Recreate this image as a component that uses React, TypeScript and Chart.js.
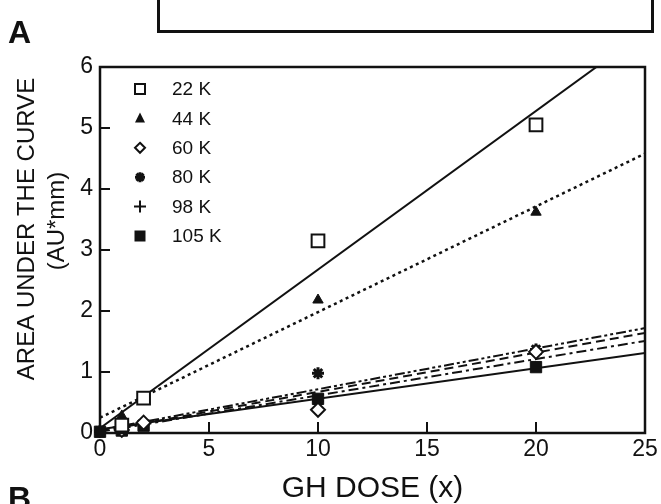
import React, { useEffect, useRef } from "react";
import { Chart, registerables } from "chart.js";

Chart.register(...registerables);

// ---------- data ----------
const SERIES_NAMES = ["22 K", "44 K", "60 K", "80 K", "98 K", "105 K"];

const DOSE_22K = [1, 2, 10, 20];
const AUC_22K = [0.13, 0.57, 3.15, 5.05];
const DOSE_44K = [0, 1, 10, 20];
const AUC_44K = [0.03, 0.28, 2.18, 3.62];
const DOSE_60K = [1, 2, 10, 20];
const AUC_60K = [0.05, 0.17, 0.38, 1.33];
const DOSE_80K = [0, 1, 2, 10, 20];
const AUC_80K = [0.03, 0.08, 0.15, 0.98, 1.37];
const DOSE_98K = [0, 1, 2, 10, 20];
const AUC_98K = [0.02, 0.06, 0.14, 0.52, 1.3];
const DOSE_105K = [0, 1, 2, 10, 20];
const AUC_105K = [0.02, 0.04, 0.12, 0.56, 1.08];

// fitted regression lines (value at dose 0 and dose 25)
const FIT_DOSE = [0, 25];
const FIT_22K = [0.08, 6.58];
const FIT_44K = [0.25, 4.58];
const FIT_60K = [0.02, 1.51];
const FIT_80K = [0.05, 1.72];
const FIT_98K = [0.03, 1.64];
const FIT_105K = [0.06, 1.31];

const X_TICKS = [0, 5, 10, 15, 20, 25];
const Y_TICKS = [0, 1, 2, 3, 4, 5, 6];
const X_TITLE = "GH DOSE (x)";
const Y_TITLE = ["AREA UNDER THE CURVE", "(AU*mm)"];

const FONT = "'Liberation Sans', Arial, Helvetica, sans-serif";
const INK = "#111";

type Marker = "openSquare" | "triangle" | "openDiamond" | "star" | "plus" | "filledSquare";
const LEGEND_MARKERS: Marker[] = ["openSquare", "triangle", "openDiamond", "star", "plus", "filledSquare"];

function drawMarker(ctx: CanvasRenderingContext2D, m: Marker, x: number, y: number) {
  ctx.save();
  ctx.strokeStyle = INK;
  ctx.fillStyle = INK;
  ctx.setLineDash([]);
  ctx.lineWidth = 2;
  ctx.beginPath();
  if (m === "openSquare") {
    ctx.fillStyle = "#fff";
    ctx.rect(x - 5, y - 5, 10, 10);
    ctx.fill();
    ctx.stroke();
  } else if (m === "filledSquare") {
    ctx.fillRect(x - 5.5, y - 5.5, 11, 11);
  } else if (m === "triangle") {
    ctx.moveTo(x, y - 6);
    ctx.lineTo(x + 5, y + 4);
    ctx.lineTo(x - 5, y + 4);
    ctx.closePath();
    ctx.fill();
  } else if (m === "openDiamond") {
    ctx.moveTo(x, y - 5);
    ctx.lineTo(x + 5, y);
    ctx.lineTo(x, y + 5);
    ctx.lineTo(x - 5, y);
    ctx.closePath();
    ctx.fillStyle = "#fff";
    ctx.fill();
    ctx.stroke();
  } else if (m === "star") {
    ctx.lineWidth = 3;
    for (let i = 0; i < 4; i++) {
      const a = (i * Math.PI) / 4;
      ctx.moveTo(x - 5 * Math.cos(a), y - 5 * Math.sin(a));
      ctx.lineTo(x + 5 * Math.cos(a), y + 5 * Math.sin(a));
    }
    ctx.stroke();
  } else if (m === "plus") {
    ctx.moveTo(x - 6, y);
    ctx.lineTo(x + 6, y);
    ctx.moveTo(x, y - 6);
    ctx.lineTo(x, y + 6);
    ctx.stroke();
  }
  ctx.restore();
}

const framePlugin = {
  id: "frameAndTicks",
  afterDatasetsDraw(chart: any) {
    const { ctx, chartArea } = chart;
    const { left, right, top, bottom } = chartArea;
    ctx.save();
    ctx.strokeStyle = INK;
    ctx.lineWidth = 2.5;
    ctx.setLineDash([]);
    ctx.strokeRect(left, top, right - left, bottom - top);
    ctx.lineWidth = 2;
    const xs = chart.scales.x;
    const ys = chart.scales.y;
    ctx.beginPath();
    X_TICKS.slice(1, -1).forEach((v) => {
      const px = Math.round(xs.getPixelForValue(v));
      ctx.moveTo(px, bottom);
      ctx.lineTo(px, bottom - 11);
    });
    Y_TICKS.slice(1, -1).forEach((v) => {
      const py = Math.round(ys.getPixelForValue(v));
      ctx.moveTo(left, py);
      ctx.lineTo(left + 10, py);
    });
    ctx.stroke();
    ctx.restore();
  },
};

const legendPlugin = {
  id: "insideLegend",
  afterDraw(chart: any) {
    const { ctx } = chart;
    ctx.save();
    ctx.font = `19px ${FONT}`;
    ctx.fillStyle = INK;
    ctx.textBaseline = "middle";
    ctx.textAlign = "left";
    SERIES_NAMES.forEach((name, i) => {
      const y = 89 + i * 29.4;
      drawMarker(ctx, LEGEND_MARKERS[i], 140, y);
      ctx.fillStyle = INK;
      ctx.fillText(name, 172, y + 1);
    });
    ctx.restore();
  },
};

const yTitlePlugin = {
  id: "yTitle",
  afterDraw(chart: any) {
    const { ctx } = chart;
    ctx.save();
    ctx.font = `24px ${FONT}`;
    ctx.fillStyle = INK;
    ctx.textAlign = "center";
    ctx.textBaseline = "middle";
    ctx.translate(27, 229);
    ctx.rotate(-Math.PI / 2);
    ctx.fillText(Y_TITLE[0], 0, 0);
    ctx.fillText(Y_TITLE[1], 8, 30);
    ctx.restore();
  },
};

export default function App() {
  const ref = useRef<HTMLCanvasElement>(null);

  useEffect(() => {
    if (!ref.current) return;
    const toXY = (xs: number[], ys: number[]) => xs.map((x, i) => ({ x, y: ys[i] }));
    const pts = (label: string, xs: number[], ys: number[], style: any, radius: number, filled: boolean, bw: number) => ({
      label,
      data: toXY(xs, ys),
      showLine: false,
      pointStyle: style,
      pointRadius: radius,
      pointHoverRadius: radius,
      pointBackgroundColor: filled ? INK : "#fff",
      pointBorderColor: INK,
      pointBorderWidth: bw,
      backgroundColor: filled ? INK : "#fff",
      borderColor: INK,
      clip: 14,
      order: 0,
    });
    const fit = (label: string, ys: number[], dash: number[], width: number) => ({
      label,
      data: toXY(FIT_DOSE, ys),
      showLine: true,
      pointRadius: 0,
      pointHoverRadius: 0,
      borderColor: INK,
      backgroundColor: INK,
      borderWidth: width,
      borderDash: dash,
      fill: false,
      order: 1,
    });

    const chart = new Chart(ref.current, {
      type: "scatter",
      data: {
        datasets: [
          fit("fit 22 K", FIT_22K, [], 2),
          fit("fit 44 K", FIT_44K, [3, 3.5], 2.5),
          fit("fit 60 K", FIT_60K, [10, 4, 3, 4], 2),
          fit("fit 80 K", FIT_80K, [10, 3, 3, 3, 3, 3], 2),
          fit("fit 98 K", FIT_98K, [9, 5], 2),
          fit("fit 105 K", FIT_105K, [], 2),
          pts(SERIES_NAMES[0], DOSE_22K, AUC_22K, "rect", 9, false, 2),
          pts(SERIES_NAMES[1], DOSE_44K, AUC_44K, "triangle", 6, true, 1),
          pts(SERIES_NAMES[2], DOSE_60K, AUC_60K, "rectRot", 7, false, 2),
          pts(SERIES_NAMES[3], DOSE_80K, AUC_80K, "star", 6, true, 3),
          pts(SERIES_NAMES[4], DOSE_98K, AUC_98K, "cross", 6, true, 2),
          pts(SERIES_NAMES[5], DOSE_105K, AUC_105K, "rect", 8, true, 1),
        ] as any,
      },
      options: {
        animation: false,
        responsive: false,
        devicePixelRatio: 1,
        events: [],
        layout: { padding: { top: 67, right: 16, left: 0, bottom: 0 } },
        plugins: {
          legend: { display: false },
          tooltip: { enabled: false },
        },
        scales: {
          x: {
            type: "linear",
            min: 0,
            max: 25,
            afterBuildTicks: (s: any) => {
              s.ticks = X_TICKS.map((v) => ({ value: v }));
            },
            afterFit: (s: any) => {
              s.height = 71;
            },
            ticks: {
              color: INK,
              font: { family: FONT, size: 23 },
              padding: 3,
              maxRotation: 0,
              autoSkip: false,
            },
            grid: { display: false, drawTicks: false },
            border: { display: false },
            title: {
              display: true,
              text: X_TITLE,
              color: INK,
              font: { family: FONT, size: 30, lineHeight: 1 },
              padding: { top: 0, bottom: 0 },
            },
          },
          y: {
            type: "linear",
            min: 0,
            max: 6,
            afterBuildTicks: (s: any) => {
              s.ticks = Y_TICKS.map((v) => ({ value: v }));
            },
            afterFit: (s: any) => {
              s.width = 100;
            },
            ticks: {
              color: INK,
              font: { family: FONT, size: 23 },
              padding: 7,
              autoSkip: false,
            },
            grid: { display: false, drawTicks: false },
            border: { display: false },
          },
        },
      } as any,
      plugins: [framePlugin, legendPlugin, yTitlePlugin],
    });
    return () => chart.destroy();
  }, []);

  return (
    <div style={{ position: "absolute", left: 0, top: 0, width: 661, height: 504, background: "#fff", overflow: "hidden" }}>
      <canvas ref={ref} width={661} height={504} style={{ position: "absolute", left: 0, top: 0 }} />
      <div
        style={{
          position: "absolute",
          left: 157,
          top: -8,
          width: 497,
          height: 41,
          border: `3.5px solid ${INK}`,
          boxSizing: "border-box",
        }}
      />
      <div style={{ position: "absolute", left: 8, top: 16, font: `bold 32px ${FONT}`, color: INK, lineHeight: "32px" }}>A</div>
      <div style={{ position: "absolute", left: 8, top: 482, font: `bold 32px ${FONT}`, color: INK, lineHeight: "32px" }}>B</div>
    </div>
  );
}
